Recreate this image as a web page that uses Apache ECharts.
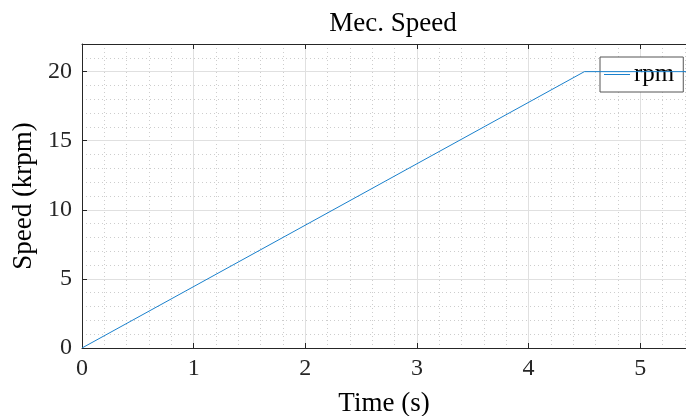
<!DOCTYPE html>
<html><head><meta charset="utf-8">
<script src="https://cdn.jsdelivr.net/npm/echarts@6/dist/echarts.min.js"></script>
<style>html,body{margin:0;padding:0;background:#fff}#c{width:686px;height:416px}</style>
</head><body><div id="c"></div>
<script>
const timeS = [0, 4.5, 5.5];
const speedKrpm = [0, 20, 20];
const seriesName = 'rpm';
const titleText = 'Mec. Speed';
const xName = 'Time (s)';
const yName = 'Speed (krpm)';

const FONT = '"Liberation Serif", "DejaVu Serif", serif';
const AX = '#262626';
const LINE = '#1a80cc';
const XMAX = 5.41;
const chart = echarts.init(document.getElementById('c'), null, {renderer: 'canvas'});
const data = timeS.map((t, i) => [t, speedKrpm[i]]);
chart.setOption({
  animation: false,
  backgroundColor: '#fff',
  title: {text: titleText, left: 388, top: 5, textAlign: 'center',
    textStyle: {fontFamily: FONT, fontSize: 27, fontWeight: 'normal', color: '#000'}},
  grid: {left: 82, right: 0, top: 44, bottom: 68, containLabel: false, outerBoundsMode: 'none'},
  legend: {left: 600, top: 57, orient: 'vertical', backgroundColor: '#fff', borderColor: '#555', borderWidth: 1,
    padding: [5, 9, 5, 4], itemWidth: 26, itemHeight: 1, itemGap: 0, icon: 'rect',
    textStyle: {fontFamily: FONT, fontSize: 25, color: '#000', padding: [0, 0, 0, -1]},
    data: [{name: seriesName}]},
  xAxis: [
    {type: 'value', position: 'bottom', min: 0, max: XMAX, interval: 1,
      name: xName, nameLocation: 'middle', nameGap: 42,
      nameTextStyle: {fontFamily: FONT, fontSize: 27, color: '#000'},
      axisLine: {show: true, lineStyle: {color: AX, width: 1}},
      axisTick: {show: true, inside: true, length: 5, lineStyle: {color: AX}},
      axisLabel: {fontFamily: FONT, fontSize: 24, color: AX, margin: 9, showMaxLabel: false},
      splitLine: {show: true, lineStyle: {color: '#e0e0e0', width: 1}}, z: 3},
    {type: 'value', position: 'bottom', min: 0, max: XMAX, interval: 0.2,
      axisLine: {show: false}, axisTick: {show: false}, axisLabel: {show: false},
      splitLine: {show: true, lineStyle: {color: '#cdcdcd', width: 1, type: [1, 3]}}, z: 1},
    {type: 'value', position: 'top', min: 0, max: XMAX, interval: 1,
      axisLine: {show: true, lineStyle: {color: AX, width: 1}},
      axisTick: {show: true, inside: true, length: 5, lineStyle: {color: AX}},
      axisLabel: {show: false}, splitLine: {show: false}, z: 3}
  ],
  yAxis: [
    {type: 'value', position: 'left', min: 0, max: 22, interval: 5,
      name: yName, nameLocation: 'middle', nameGap: 35, nameRotate: 90,
      nameTextStyle: {fontFamily: FONT, fontSize: 27, color: '#000'},
      axisLine: {show: true, lineStyle: {color: AX, width: 1}},
      axisTick: {show: true, inside: true, length: 5, lineStyle: {color: AX}},
      axisLabel: {fontFamily: FONT, fontSize: 24, color: AX, margin: 10, showMaxLabel: false},
      splitLine: {show: true, lineStyle: {color: '#e0e0e0', width: 1}}, z: 3},
    {type: 'value', position: 'left', min: 0, max: 22, interval: 1,
      axisLine: {show: false}, axisTick: {show: false}, axisLabel: {show: false},
      splitLine: {show: true, lineStyle: {color: '#cdcdcd', width: 1, type: [1, 3]}}, z: 1}
  ],
  series: [{name: seriesName, type: 'line', xAxisIndex: 0, yAxisIndex: 0, data: data,
    symbol: 'none', color: LINE, lineStyle: {width: 1, color: LINE}, z: 5}]
});
</script></body></html>
